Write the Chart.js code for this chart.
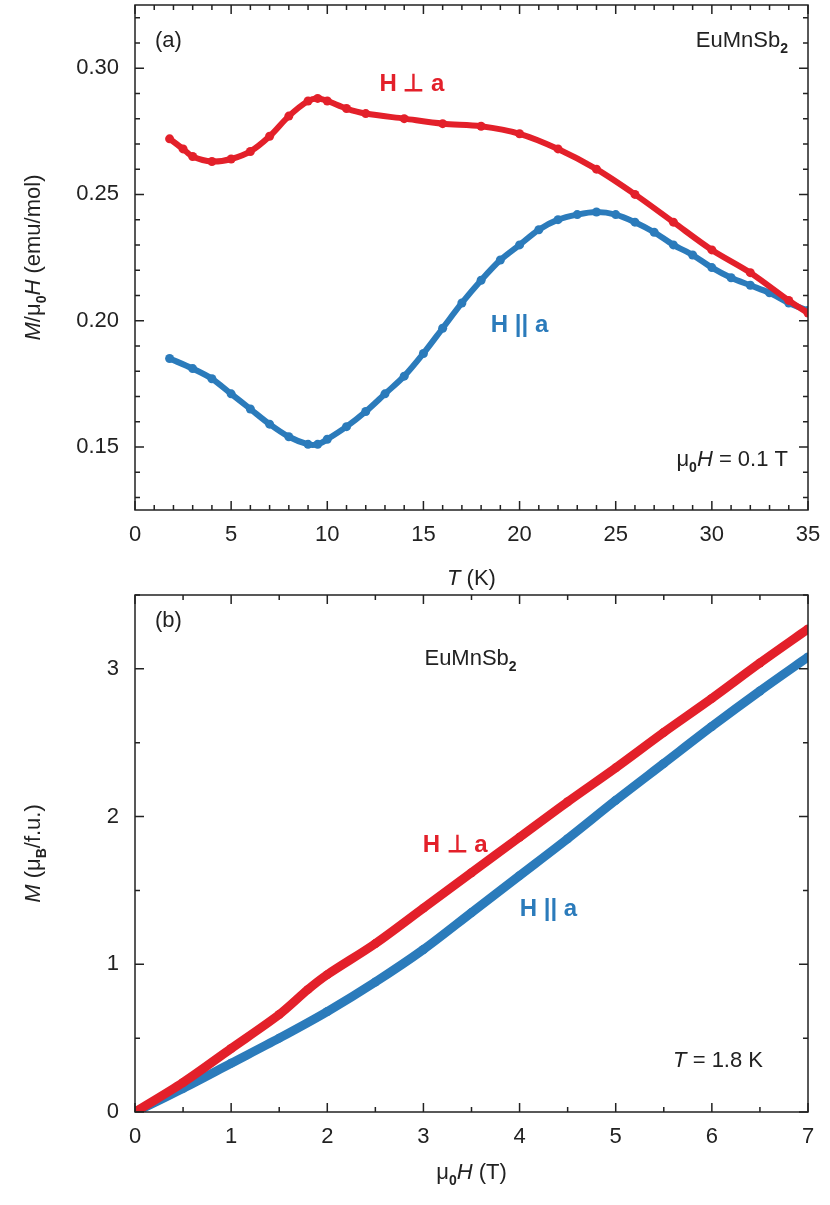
<!DOCTYPE html>
<html><head><meta charset="utf-8">
<script src="https://cdn.jsdelivr.net/npm/chart.js@4"></script>
<style>
body{margin:0;background:#fff;width:830px;height:1205px;position:relative}
.box{position:absolute;left:0;width:830px}
</style></head><body>
<div class="box" style="top:0;height:590px"><canvas id="c1"></canvas></div>
<div class="box" style="top:590px;height:615px"><canvas id="c2"></canvas></div>
<script>
// panel (a): M/H vs T at 0.1 T
const tPerp = [1.8,2.5,3,4,5,6,7,8,9,9.5,10,11,12,14,16,18,20,22,24,26,28,30,32,34,35];
const mPerp = [0.272,0.268,0.265,0.263,0.264,0.267,0.273,0.281,0.287,0.288,0.287,0.284,0.282,0.280,0.278,0.277,0.274,0.268,0.260,0.250,0.239,0.228,0.219,0.208,0.203];
const tPar = [1.8,3,4,5,6,7,8,9,9.5,10,11,12,13,14,15,16,17,18,19,20,21,22,23,24,25,26,27,28,29,30,31,32,33,34,35];
const mPar = [0.185,0.181,0.177,0.171,0.165,0.159,0.154,0.151,0.151,0.153,0.158,0.164,0.171,0.178,0.187,0.197,0.207,0.216,0.224,0.230,0.236,0.240,0.242,0.243,0.242,0.239,0.235,0.230,0.226,0.221,0.217,0.214,0.211,0.207,0.204];
const yTicksA = [0.15,0.20,0.25,0.30];
// panel (b): M vs field at 1.8 K
const hPerp = [0,0.5,1,1.5,1.8,2,2.5,3,3.5,4,4.5,5,5.5,6,6.5,7];
const mhPerp = [0,0.2,0.43,0.66,0.83,0.93,1.14,1.38,1.62,1.86,2.1,2.33,2.57,2.8,3.04,3.27];
const hPar = [0,0.5,1,1.5,2,2.5,3,3.5,4,4.5,5,5.5,6,6.5,7];
const mhPar = [0,0.16,0.33,0.5,0.68,0.88,1.1,1.35,1.6,1.85,2.11,2.36,2.61,2.85,3.08];
const yTicksB = [0,1,2,3];

const RED = '#e3202a', BLUE = '#2b7bbb', FONT = '"Liberation Sans", Arial, sans-serif';

function pts(xs, ys){ return xs.map((x,i)=>({x:x,y:ys[i]})); }

function runs(ctx, x, y, parts, size, color, align){
  ctx.save(); ctx.fillStyle = color; ctx.textBaseline='alphabetic';
  const fnt = (s)=> (s.includes('b')?'bold ':'')+(s.includes('i')?'italic ':'')+(s.includes('sub')?Math.round(size*0.65):size)+'px '+FONT;
  let w = 0;
  parts.forEach(p=>{ctx.font=fnt(p[1]); w+=ctx.measureText(p[0]).width;});
  let cx = align==='center'? x-w/2 : align==='right'? x-w : x;
  parts.forEach(p=>{ctx.font=fnt(p[1]); ctx.fillText(p[0], cx, y+(p[1].includes('sub')?size*0.25:0)); cx+=ctx.measureText(p[0]).width;});
  ctx.restore();
}

function framePlugin(opt){
  return {
    id:'frame',
    afterDraw(chart){
      const ctx = chart.ctx, a = chart.chartArea, xs = chart.scales.x, ys = chart.scales.y;
      ctx.save(); ctx.strokeStyle='#222'; ctx.lineWidth=1.5;
      ctx.strokeRect(a.left,a.top,a.right-a.left,a.bottom-a.top);
      const tick=(v,sc,len)=>{
        if(sc===xs){ const p=xs.getPixelForValue(v); if(p<a.left-1||p>a.right+1) return;
          ctx.beginPath(); ctx.moveTo(p,a.bottom); ctx.lineTo(p,a.bottom-len); ctx.moveTo(p,a.top); ctx.lineTo(p,a.top+len); ctx.stroke(); }
        else { const p=ys.getPixelForValue(v); if(p<a.top-1||p>a.bottom+1) return;
          ctx.beginPath(); ctx.moveTo(a.left,p); ctx.lineTo(a.left+len,p); ctx.moveTo(a.right,p); ctx.lineTo(a.right-len,p); ctx.stroke(); }
      };
      for(let v=xs.min; v<=xs.max+1e-9; v+=opt.xMinor){ const maj=Math.abs(v/opt.xMajor-Math.round(v/opt.xMajor))<1e-6; tick(v,xs,maj?9:5); }
      for(let v=opt.yStart; v<=ys.max+1e-9; v+=opt.yMinor){ const maj=Math.abs((v-opt.yMajorBase)/opt.yMajor-Math.round((v-opt.yMajorBase)/opt.yMajor))<1e-6; tick(v,ys,maj?9:5); }
      ctx.restore();
      opt.labels(ctx, xs, ys, a);
    }
  };
}

function makeChart(id, sets, xr, yr, yTicks, xstep, fmt, opt, padTop, xh){
  return new Chart(document.getElementById(id), {
    type:'scatter',
    data:{datasets:sets.map(s=>({data:pts(s[0],s[1]), borderColor:s[2], backgroundColor:s[2], showLine:true, borderWidth:s[3], pointRadius:4.5, pointBorderWidth:0, tension:0.3}))},
    options:{
      responsive:true, maintainAspectRatio:false, animation:false,
      layout:{padding:{top:padTop,right:22,left:0,bottom:0}},
      plugins:{legend:{display:false},tooltip:{enabled:false}},
      scales:{
        x:{type:'linear',min:xr[0],max:xr[1],grid:{display:false},border:{display:false},
           ticks:{stepSize:xstep,color:'#222',font:{family:FONT,size:22},padding:4,maxRotation:0},
           afterFit:s=>{s.height=xh;s.paddingRight=0;}},
        y:{type:'linear',min:yr[0],max:yr[1],grid:{display:false},border:{display:false},
           afterBuildTicks:s=>{s.ticks=yTicks.map(v=>({value:v}));},
           ticks:{color:'#222',font:{family:FONT,size:22},padding:8,callback:fmt},
           afterFit:s=>{s.width=135;s.paddingTop=0;s.paddingBottom=0;}}
      }
    },
    plugins:[framePlugin(opt)]
  });
}

makeChart('c1', [[tPerp,mPerp,RED,6],[tPar,mPar,BLUE,6]], [0,35], [0.125,0.325], yTicksA, 5,
  v=>v.toFixed(2),
  {xMinor:1, xMajor:5, yMinor:0.01, yMajor:0.05, yStart:0.13, yMajorBase:0,
   labels(ctx,xs,ys,a){
     runs(ctx,a.left+20,a.top+42,[['(a)','']],22,'#222','left');
     runs(ctx,a.right-20,a.top+42,[['EuMnSb','',],['2','sub']],22,'#222','right');
     runs(ctx,xs.getPixelForValue(14.4),ys.getPixelForValue(0.2944)+9,[['H ⊥ a','b']],24,RED,'center');
     runs(ctx,xs.getPixelForValue(20),ys.getPixelForValue(0.199)+9,[['H || a','b']],24,BLUE,'center');
     runs(ctx,a.right-20,a.bottom-44,[['μ',''],['0','sub'],['H','i'],[' = 0.1 T','']],22,'#222','right');
     runs(ctx,(a.left+a.right)/2,a.bottom+75,[['T','i'],[' (K)','']],22,'#222','center');
     ctx.save(); ctx.translate(40,(a.top+a.bottom)/2); ctx.rotate(-Math.PI/2);
     runs(ctx,0,0,[['M','i'],['/μ',''],['0','sub'],['H','i'],[' (emu/mol)','']],22,'#222','center');
     ctx.restore();
   }}, 5, 80);

makeChart('c2', [[hPerp,mhPerp,RED,9],[hPar,mhPar,BLUE,9]], [0,7], [0,3.5], yTicksB, 1,
  v=>String(v),
  {xMinor:0.5, xMajor:1, yMinor:0.5, yMajor:1, yStart:0, yMajorBase:0,
   labels(ctx,xs,ys,a){
     runs(ctx,a.left+20,a.top+32,[['(b)','']],22,'#222','left');
     runs(ctx,xs.getPixelForValue(3.49),a.top+70,[['EuMnSb',''],['2','sub']],22,'#222','center');
     runs(ctx,xs.getPixelForValue(3.33),ys.getPixelForValue(1.82)+9,[['H ⊥ a','b']],24,RED,'center');
     runs(ctx,xs.getPixelForValue(4.3),ys.getPixelForValue(1.39)+9,[['H || a','b']],24,BLUE,'center');
     runs(ctx,a.right-45,a.bottom-45,[['T','i'],[' = 1.8 K','']],22,'#222','right');
     runs(ctx,(a.left+a.right)/2,a.bottom+67,[['μ',''],['0','sub'],['H','i'],[' (T)','']],22,'#222','center');
     ctx.save(); ctx.translate(40,(a.top+a.bottom)/2); ctx.rotate(-Math.PI/2);
     runs(ctx,0,0,[['M','i'],[' (μ',''],['B','sub'],['/f.u.)','']],22,'#222','center');
     ctx.restore();
   }}, 5, 93);
</script>
</body></html>
